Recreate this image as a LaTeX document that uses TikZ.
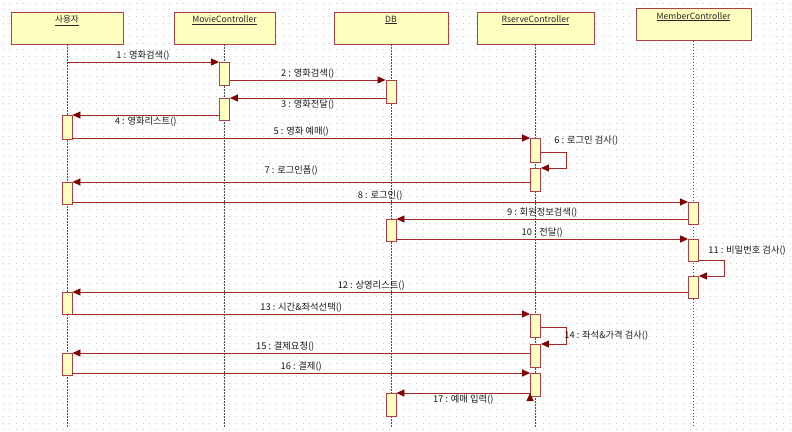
\documentclass[tikz,border=0pt]{standalone}
\usepackage{fontspec}
\setmainfont{Noto Sans CJK KR}
\usetikzlibrary{
        arrows.meta,
        positioning,
        shapes
    }
\definecolor{lifebox}{RGB}{255,255,192}
\definecolor{lifeedge}{RGB}{176,64,72}
\definecolor{msgline}{RGB}{165,40,40}
\definecolor{msghead}{RGB}{128,0,0}
\definecolor{griddot}{RGB}{205,205,205}
\tikzset{>={Triangle[length=8pt,width=7pt,color=msghead]},shorten >=0pt}
\tikzset{
    object/.style={draw=lifeedge,fill=lifebox,line width=0.9pt,minimum height=32pt,inner sep=0pt},
    objname/.style={font=\fontsize{8.6}{10}\selectfont,inner sep=1pt,text=black!85},
    act/.style={draw=lifeedge,fill=lifebox,line width=0.9pt,minimum width=10pt,minimum height=#1,inner sep=0pt,anchor=north},
    lifeline/.style={draw=black!70,dash pattern=on 1.5pt off 1.5pt,line width=0.7pt},
    msg/.style={draw=msgline,line width=0.8pt},
    msgtext/.style={font=\fontsize{9.3}{11}\selectfont,inner sep=1.2pt,text=black!90}
}

\begin{document}
\begin{tikzpicture}[x=1pt,y=-1pt]
                \useasboundingbox (0,0) rectangle (792,431);
                % dotted background grid
                \foreach \gy in {0,...,64}
                    \draw[griddot,line width=1pt,dash pattern=on 1pt off 5.67pt] (2.5,{3+6.67*\gy}) -- (792,{3+6.67*\gy});
                % objects
                \node[object,minimum width=112pt,label={[objname,anchor=north,yshift=-3pt]north:\underline{사용자}}] (user) at (67,28) {};
                \node[object,minimum width=101pt,label={[objname,anchor=north,yshift=-3pt]north:\underline{MovieController}}] (movie) at (224.5,28) {};
                \node[object,minimum width=114pt,label={[objname,anchor=north,yshift=-3pt]north:\underline{DB}}] (db) at (391,28) {};
                \node[object,minimum width=117pt,label={[objname,anchor=north,yshift=-3pt]north:\underline{RserveController}}] (rserve) at (535.5,28) {};
                \node[object,minimum width=115pt,label={[objname,anchor=north,yshift=-3pt]north:\underline{MemberController}}] (member) at (693.5,24.5) {};
                % lifelines
                \coordinate (bottom) at (0,427);
                \foreach \o in {user,movie,db,rserve,member}
                    \draw[lifeline] (\o.south) -- (\o.south |- bottom);
                % activations
                \node[act=24pt] (u1) at (67,115) {};
                \node[act=22pt] (u2) at (67,182) {};
                \node[act=22pt] (u3) at (67,292) {};
                \node[act=22pt] (u4) at (67,353) {};
                \node[act=23pt] (m1) at (224.5,62) {};
                \node[act=22pt] (m2) at (224.5,98) {};
                \node[act=23pt] (d1) at (391,80) {};
                \node[act=22pt] (d2) at (391,219) {};
                \node[act=23pt] (d3) at (391,393) {};
                \node[act=24pt] (r1) at (535.5,138) {};
                \node[act=23pt] (r2) at (535.5,168) {};
                \node[act=23pt] (r3) at (535.5,314) {};
                \node[act=23pt] (r4) at (535.5,344) {};
                \node[act=23pt] (r5) at (535.5,373) {};
                \node[act=22pt] (b1) at (693.5,202) {};
                \node[act=22pt] (b2) at (693.5,239) {};
                \node[act=22pt] (b3) at (693.5,276) {};
                \coordinate (c1) at (user.south |- m1.north);
                % messages
                \path[msg,->]
                        (c1) edge node[msgtext,above] {1 : 영화검색()} (m1.north west)
                        (m1.east |- d1.north) edge node[msgtext,above] {2 : 영화검색()} (d1.north west)
                        (d1.west |- m2.north) edge node[msgtext,below] {3 : 영화전달()} (m2.north east)
                        (m2.west |- u1.north) edge node[msgtext,below] {4 : 영화리스트()} (u1.north east)
                        (u1.east |- r1.north) edge node[msgtext,above] {5 : 영화 예매()} (r1.north west)
                        (r2.west |- u2.north) edge node[msgtext,above,xshift=-10pt,yshift=5pt] {7 : 로그인폼()} (u2.north east)
                        (u2.east |- b1.north) edge node[msgtext,above] {8 : 로그인()} (b1.north west)
                        (b1.west |- d2.north) edge node[msgtext,above] {9 : 회원정보검색()} (d2.north east)
                        (d2.east |- b2.north) edge node[msgtext,above] {10 : 전달()} (b2.north west)
                        (b3.west |- u3.north) edge node[msgtext,above,xshift=-9pt] {12 : 상영리스트()} (u3.north east)
                        (u3.east |- r3.north) edge node[msgtext,above] {13 : 시간\&좌석선택()} (r3.north west)
                        (r4.west |- u4.north) edge node[msgtext,above,xshift=-16pt] {15 : 결제요청()} (u4.north east)
                        (u4.east |- r5.north) edge node[msgtext,above] {16 : 결제()} (r5.north west)
                        (r5.west |- d3.north) edge node[msgtext,below] {17 : 예매 입력()} (d3.north east)
                ;
                % self calls
                \draw[msg,->] ([yshift=-14pt]r1.north east) -- ++(25,0) |- (r2.north east);
                \draw[msg,->] ([yshift=-21pt]b2.north east) -- ++(25,0) |- (b3.north east);
                \draw[msg,->] ([yshift=-13pt]r3.north east) -- ++(25,0) |- (r4.north east);
                \node[msgtext,anchor=west] (l6) at (553,141) {6 : 로그인 검사()};
                \node[msgtext,anchor=west] (l11) at (707,251) {11 : 비밀번호 검사()};
                \node[msgtext,anchor=west] (l14) at (563,336) {14 : 좌석\&가격 검사()};
            \end{tikzpicture}
\end{document}
